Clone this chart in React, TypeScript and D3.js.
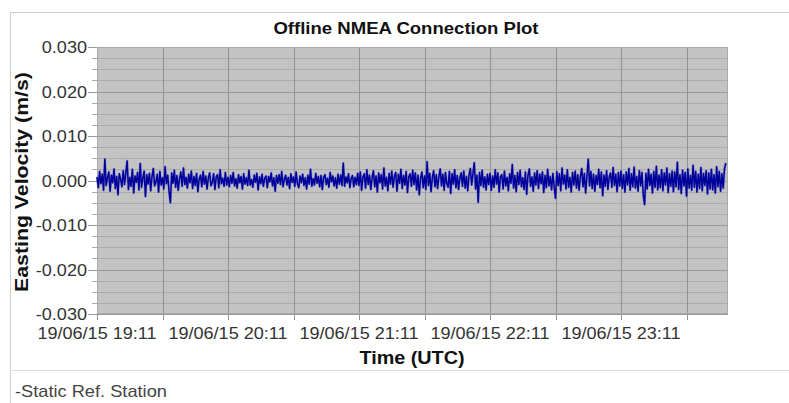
import React, { useEffect, useRef } from "react";
import * as d3 from "d3";

const W = 789;
const H = 403;

const startTime = new Date(Date.UTC(2015, 5, 19, 19, 11));
const endTime = new Date(Date.UTC(2015, 5, 20, 0, 0));
const sampleIntervalSec = 36;

// easting velocity in mm/s, one sample every 36 s
const velocityHour1 = [
  0.8, -1.6, 2.0, -0.7, 1.4, -2.2, 4.8, -1.1, 0.6, 1.9,
  -2.4, 1.2, -0.5, 2.6, -1.8, 0.9, -3.2, 1.5, 0.3, -1.4,
  2.2, -0.9, 1.7, 4.4, -2.0, 0.7, -1.3, 2.5, -2.8, 1.0,
  -0.4, 1.8, -2.1, 3.8, -1.5, 0.5, 2.1, -3.6, 1.3, -0.8,
  1.6, -2.3, 0.9, 2.7, -1.2, -0.3, 1.4, -2.6, 2.0, -1.0,
  0.6, -1.9, 3.1, -0.7, 1.2, -2.4, -5.0, 1.7, -0.6, 2.3,
  -1.5, 1.1, -2.2, 0.4, 1.9, -1.3, 2.8, -0.9, 0.7, -1.7,
  1.4, -0.5, 2.1, -1.8, 0.9, -1.1, 1.6, -2.5, 0.3, 1.2,
  -1.4, 2.0, -0.8, 1.0, -1.9, 0.6, 1.7, -1.2, -0.4, 1.5,
  -2.0, 0.8, 1.3, -1.6, 2.4, -0.7, 0.5, -1.3, 1.8, -1.0,
];
const velocityHour2 = [
  0.7, -1.4, 1.1, -0.6, 1.8, -1.2, 0.4, -1.7, 1.3, -0.5,
  0.9, -1.9, 1.5, -0.8, 0.6, -1.1, 2.3, -1.0, 0.2, -1.5,
  1.2, -0.4, 1.6, -2.1, 0.8, -0.7, 1.4, -1.3, 0.5, 1.0,
  -1.6, 0.9, -0.3, 1.7, -1.2, 0.6, -2.4, 1.1, -0.6, 1.3,
  -0.9, 2.0, -1.4, 0.3, 1.2, -1.0, 0.7, -1.8, 1.5, -0.4,
  0.8, -1.3, 1.9, -0.7, -1.6, 1.0, -0.5, 1.4, -1.1, 0.6,
  -1.9, 1.2, -0.8, 2.5, -1.3, 0.4, -1.0, 1.6, -0.6, 0.9,
  -1.4, 1.1, -2.0, 0.7, 1.3, -0.9, 0.5, -1.5, 1.8, -0.3,
  1.0, -1.2, 0.6, -1.7, 1.4, -0.8, 1.2, -1.1, 3.9, -1.3,
  0.8, -0.5, 1.5, -1.6, 0.4, 1.1, -1.4, 0.7, -0.9, 1.6,
];
const velocityHour3 = [
  -1.1, 1.9, -2.2, 0.8, 1.5, -1.7, 2.4, -0.9, 1.2, -2.0,
  0.6, 2.2, -1.4, 1.0, -2.6, 1.7, -0.5, 1.3, -1.9, 2.8,
  -1.2, 0.7, -2.3, 1.6, -0.8, 2.1, -1.5, 0.9, 1.8, -2.4,
  1.4, -0.6, 2.5, -1.8, 1.1, -1.0, 2.0, -2.7, 0.8, 1.5,
  -1.3, 2.3, -0.9, 1.7, -2.1, 1.2, -3.2, 0.5, 1.9, -1.6,
  1.0, -2.0, 4.2, -1.1, 1.6, -2.5, 0.7, 2.2, -1.4, 1.3,
  -1.8, 0.9, 2.6, -1.2, 1.4, -2.2, 1.8, -0.7, -1.5, 2.0,
  -2.9, 1.5, -0.8, 2.4, -1.6, 1.1, -2.0, 0.6, 1.7, -1.3,
  2.1, -1.7, 0.9, -2.3, 1.3, 2.7, -1.0, 1.6, 4.0, -1.9,
  1.2, -4.9, 1.8, -1.1, 2.3, -1.5, 0.8, -2.1, 1.4, -0.9,
];
const velocityHour4 = [
  1.6, -2.2, 1.0, -1.5, 2.4, -0.8, 1.7, -2.6, 0.9, 1.3,
  -1.9, 2.1, -1.2, 0.7, -2.3, 1.5, -0.6, 3.6, -1.7, 1.1,
  -2.5, 1.8, -0.9, 2.3, -1.4, 0.6, -2.0, 1.9, -3.1, 1.2,
  2.6, -1.3, 0.8, -2.4, 1.7, -1.0, 2.2, -1.8, 1.4, -0.7,
  1.9, -2.7, 1.1, -1.6, 2.5, -1.2, 0.9, -2.1, 1.6, -1.4,
  -4.0, 2.0, -1.1, 1.5, -2.3, 2.8, -0.8, 1.2, -1.9, 2.4,
  -1.5, 0.7, -2.6, 1.8, -1.0, 2.1, -1.7, 1.3, -2.2, 0.9,
  2.7, -1.4, 1.6, -2.8, 1.0, 4.8, -1.2, 2.0, -1.8, 1.4,
  -2.4, 1.1, -0.9, 2.5, -1.6, 1.9, -3.4, 1.2, -1.3, 2.2,
  -2.0, 0.8, 1.7, -1.5, 2.9, -1.1, 1.4, -2.5, 1.8, -1.2,
];
const velocityHour5 = [
  2.1, -1.8, 1.3, -2.6, 1.9, -1.0, 2.7, -2.2, 1.5, -1.4,
  3.0, -1.7, 0.9, -2.4, 2.2, -1.2, 1.8, -3.3, -5.4, 1.6,
  -1.9, 2.5, -1.1, 1.4, -2.8, 2.0, -1.5, 3.2, -2.1, 1.2,
  -1.6, 2.4, -2.3, 1.7, -1.0, 2.8, -2.7, 1.5, -1.3, 2.1,
  -2.5, 1.9, -1.4, 4.1, -2.0, 1.3, -2.9, 2.3, -1.2, 1.8,
  -3.5, 2.6, -1.7, 1.1, -2.2, 3.4, -1.5, 2.0, -2.6, 1.4,
  -1.8, 2.9, -2.3, 1.6, -1.1, 2.2, -3.0, 1.7, -1.9, 2.5,
  -2.1, 1.3, -2.8, 3.1, -1.4, 2.0, -2.4, 1.5, -1.7, 2.7,
  3.9,
];

const yTickValues = [0.03, 0.02, 0.01, 0, -0.01, -0.02, -0.03];
const xTickLabels = [
  "19/06/15 19:11",
  "19/06/15 20:11",
  "19/06/15 21:11",
  "19/06/15 22:11",
  "19/06/15 23:11",
];

const FONT = "'Liberation Sans', Arial, sans-serif";

const App = () => {
  const ref = useRef<HTMLDivElement>(null);

  useEffect(() => {
    const root = d3.select(ref.current);
    root.selectAll("*").remove();

    const svg = root
      .append("svg")
      .attr("width", W)
      .attr("height", H)
      .style("position", "absolute")
      .style("left", "0px")
      .style("top", "0px")
      .style("background", "#fff");

    const plot = { left: 97, right: 728, top: 47, bottom: 314 };

    const x = d3.scaleUtc().domain([startTime, endTime]).range([plot.left, plot.right]);
    const y = d3.scaleLinear().domain([-0.03, 0.03]).range([plot.bottom, plot.top]);

    // stretched text helper (the source image is a bit wide)
    const label = (tx, ty, text, size, opts: any = {}) => {
      const g = svg.append("g").attr("transform", `translate(${tx},${ty})${opts.rotate ? " rotate(-90)" : ""}`);
      g.append("text")
        .attr("transform", `scale(${opts.sx || 1.13},1)`)
        .attr("text-anchor", opts.anchor || "middle")
        .attr("font-family", FONT)
        .attr("font-size", size)
        .attr("font-weight", opts.bold ? "bold" : "normal")
        .attr("fill", opts.fill || "#333")
        .text(text);
    };

    // outer frame + legend separator
    svg.append("path")
      .attr("d", `M10.5,${H} V12.5 H${W}`)
      .attr("fill", "none")
      .attr("stroke", "#cfcfcf");
    svg.append("line")
      .attr("x1", 10).attr("x2", W)
      .attr("y1", 370.5).attr("y2", 370.5)
      .attr("stroke", "#dcdcdc");

    // plot background
    svg.append("rect")
      .attr("x", plot.left)
      .attr("y", plot.top)
      .attr("width", plot.right - plot.left)
      .attr("height", plot.bottom - plot.top)
      .attr("fill", "#c3c3c3");

    // horizontal grid (minor every 0.0025) and y ticks
    const yGrid = d3.range(-12, 13).map((k) => k * 0.0025);
    yGrid.forEach((v, i) => {
      const major = i % 4 === 0;
      const yy = Math.round(y(v)) + 0.5;
      svg.append("line")
        .attr("x1", plot.left - (major ? 9 : 5))
        .attr("x2", plot.right)
        .attr("y1", yy).attr("y2", yy)
        .attr("stroke", major ? "#999" : "#acacac")
        .attr("stroke-width", 1);
    });

    // vertical grid every 30 min
    const halfHours = d3.range(0, 10).map((k) => d3.utcMinute.offset(startTime, 30 * k));
    halfHours.forEach((t) => {
      const xx = Math.round(x(t)) + 0.5;
      svg.append("line")
        .attr("x1", xx).attr("x2", xx)
        .attr("y1", plot.top).attr("y2", plot.bottom + 6)
        .attr("stroke", "#939393");
    });

    svg.append("rect")
      .attr("x", plot.left + 0.5)
      .attr("y", plot.top + 0.5)
      .attr("width", plot.right - plot.left - 1)
      .attr("height", plot.bottom - plot.top - 1)
      .attr("fill", "none")
      .attr("stroke", "#aaa");

    // data
    const velocity = [
      ...velocityHour1,
      ...velocityHour2,
      ...velocityHour3,
      ...velocityHour4,
      ...velocityHour5,
    ];
    const line = d3
      .line<number>()
      .x((d, i) => x(d3.utcSecond.offset(startTime, i * sampleIntervalSec)))
      .y((d) => y(d / 1000));

    // soft halo like the blurred original, then the trace itself
    svg.append("path")
      .datum(velocity)
      .attr("d", line)
      .attr("fill", "none")
      .attr("stroke", "#5a5ad0")
      .attr("stroke-opacity", 0.45)
      .attr("stroke-width", 2.6)
      .attr("stroke-linejoin", "round");

    svg.append("path")
      .datum(velocity)
      .attr("d", line)
      .attr("fill", "none")
      .attr("stroke", "#00009a")
      .attr("stroke-width", 1.5)
      .attr("stroke-linejoin", "round");

    // y tick labels
    yTickValues.forEach((v) => {
      label(87, y(v) + 6, v.toFixed(3), 16, { anchor: "end" });
    });

    // x tick labels, hourly
    xTickLabels.forEach((t, k) => {
      label(x(d3.utcHour.offset(startTime, k)), 339, t, 16);
    });

    // titles
    label(406, 34, "Offline NMEA Connection Plot", 16, { bold: true, sx: 1.16, fill: "#111" });
    label(412, 364, "Time (UTC)", 18, { bold: true, sx: 1.1, fill: "#111" });
    label(28, 182, "Easting Velocity (m/s)", 19, { bold: true, sx: 1.12, rotate: true, fill: "#111" });

    // legend
    label(15, 397, "-Static Ref. Station", 16, { anchor: "start", sx: 1.14, fill: "#444" });
  }, []);

  return <div ref={ref}></div>;
};

export default App;
